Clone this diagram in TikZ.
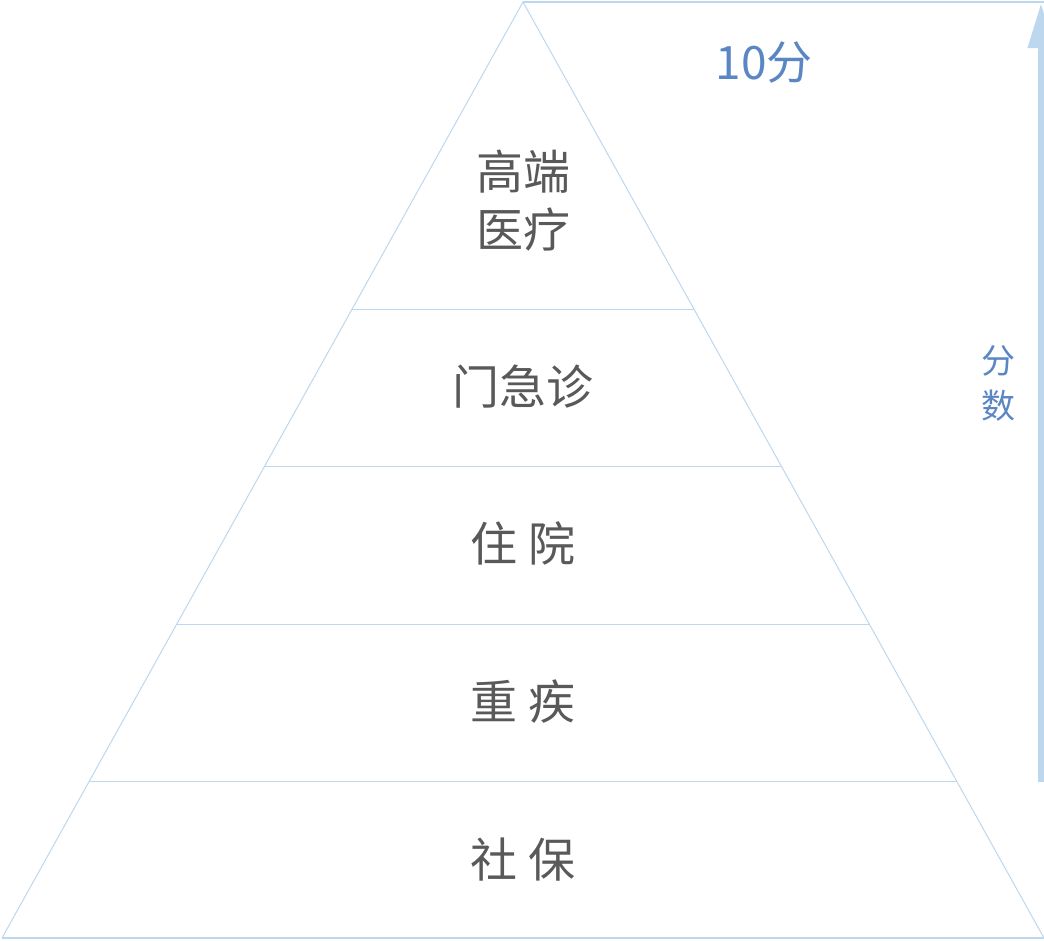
\documentclass[tikz,border=0pt]{standalone}
\usepackage{fontspec}
\newfontfamily\cjk{Noto Sans CJK SC}
\usetikzlibrary{arrows.meta}
\definecolor{lineblue}{HTML}{BDD7EE}
\definecolor{textgray}{HTML}{595959}
\definecolor{scoreblue}{HTML}{5B86C4}
\begin{document}
\begin{tikzpicture}[x=1pt,y=-1pt,
  side/.style={draw=lineblue,line width=1pt},
  edge/.style={draw=lineblue,line width=2pt},
  level/.style={text=textgray,font=\cjk\fontsize{47}{58}\selectfont,align=center,inner sep=0pt},
  score/.style={text=scoreblue,inner sep=0pt,align=center}]
\useasboundingbox (0,0) rectangle (1044,940);
\clip (0,0) rectangle (1044,940);
% pyramid corners
\coordinate (apex) at (523,2);
\coordinate (bl) at (2,938);
\coordinate (br) at (1044,938);
\coordinate (tr) at (1044,2);
% level boundaries
\coordinate (l1) at (352.1,309); \coordinate (r1) at (693.9,309);
\coordinate (l2) at (264.7,466); \coordinate (r2) at (781.3,466);
\coordinate (l3) at (176.8,624); \coordinate (r3) at (869.2,624);
\coordinate (l4) at (89.4,781);  \coordinate (r4) at (956.6,781);
\draw[side] (bl) -- (apex) -- (br);
\draw[side] (l1) -- (r1);
\draw[side] (l2) -- (r2);
\draw[side] (l3) -- (r3);
\draw[side] (l4) -- (r4);
\draw[edge] (bl) -- (br);
\draw[edge] (apex) -- (tr);
% arrow
\coordinate (abot) at (1041,782);
\coordinate (atop) at (1041,3);
\draw[draw=lineblue,line width=7pt,-{Triangle[width=25pt,length=45pt,fill=lineblue]}] (abot) -- (atop);
% labels
\node[level] (t1) at (523,201) {高端\\医疗};
\node[level] (t2) at (523,387) {门急诊};
\node[level] (t3) at (523,543) {住 院};
\node[level] (t4) at (523,702) {重 疾};
\node[level] (t5) at (523,860) {社 保};
\node[score,font=\cjk\fontsize{46}{50}\selectfont] (s1) at (764,62) {10分};
\node[score,font=\cjk\fontsize{34}{45}\selectfont] (s2) at (998,383) {分\\数};
\end{tikzpicture}
\end{document}
